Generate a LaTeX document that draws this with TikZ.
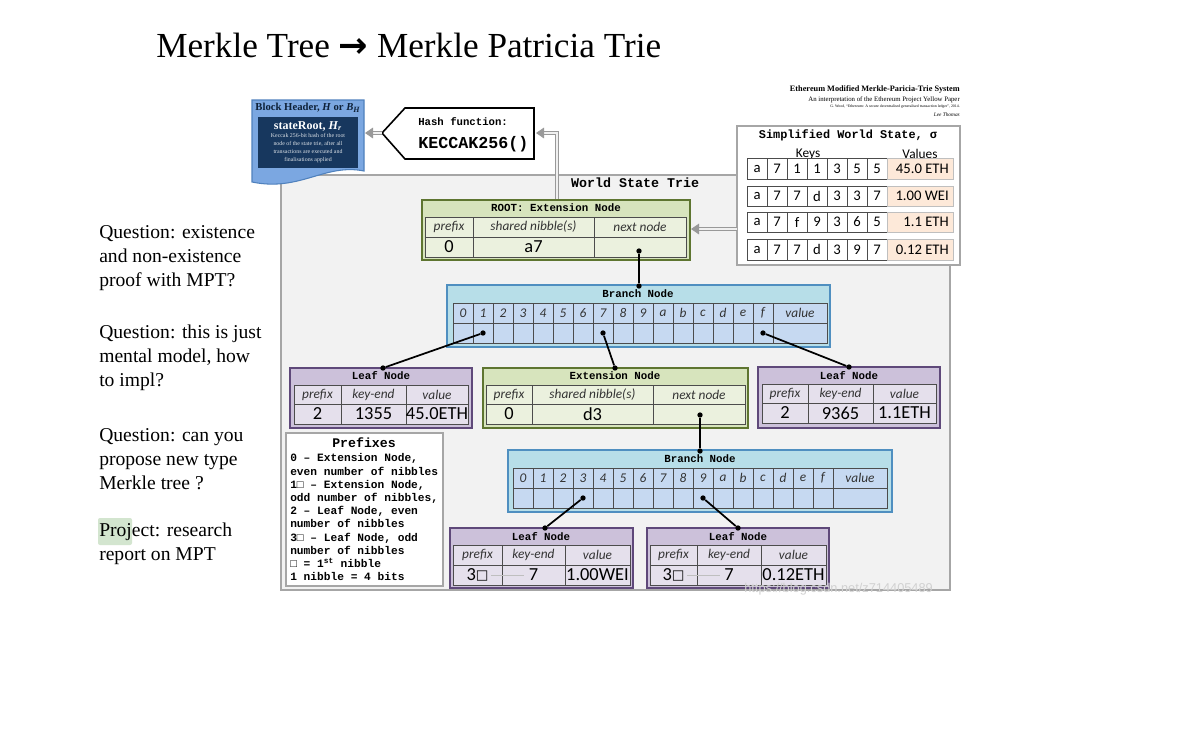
\documentclass[tikz,border=0pt]{standalone}
\usepackage{fontspec}
\setmainfont{Liberation Serif}
\newfontfamily\calib{Carlito}
\newfontfamily\cour{Liberation Mono}
\newfontfamily\dvs{DejaVu Sans}
\newfontfamily\lsans{Liberation Sans}
\usetikzlibrary{arrows.meta}

\definecolor{panelfill}{HTML}{F2F2F2}
\definecolor{panelline}{HTML}{A6A6A6}
\definecolor{grnfill}{HTML}{D7E4BD}
\definecolor{grnline}{HTML}{5E7530}
\definecolor{grncell}{HTML}{EBF1DE}
\definecolor{bluefill}{HTML}{B7DEE8}
\definecolor{blueline}{HTML}{4F8FC0}
\definecolor{bluecell}{HTML}{C6D9F1}
\definecolor{purfill}{HTML}{CCC1DA}
\definecolor{purline}{HTML}{5F497A}
\definecolor{purcell}{HTML}{E5E0EC}
\definecolor{peach}{HTML}{FDE9D9}
\definecolor{hdrblue}{HTML}{7BA7E1}
\definecolor{hdrline}{HTML}{4F81BD}
\definecolor{navy}{HTML}{17375E}
\definecolor{hilite}{HTML}{D3E5CF}

% a rectangular cell from (x1,y1) to (x2,y2), content centred
\newcommand{\cellat}[7]{%
  \node[#2, minimum width={((#5)-(#3))*0.75pt}, minimum height={((#6)-(#4))*0.75pt}]
    (#1) at ({((#3)+(#5))/2},{((#4)+(#6))/2}) {\makebox[0pt]{#7}};}
\newcommand{\sq}{{\dvs\fontsize{10}{11}\selectfont\raisebox{0.3pt}{□}}}

\begin{document}
\begin{tikzpicture}[x=0.75pt,y=-0.75pt,
  cell/.style={rectangle, draw=black!70, line width=0.5pt, inner sep=0pt},
  frame/.style={rectangle, line width=1.6pt, inner sep=0pt},
  hdr/.style={font=\calib\itshape\fontsize{10}{12}\selectfont, text=black!80},
  val/.style={font=\calib\fontsize{13.8}{15}\selectfont},
  ttl/.style={font=\cour\bfseries\fontsize{8.1}{9}\selectfont, inner sep=0pt},
  dot/.style={circle, fill=black, inner sep=0pt, minimum size=4pt},
  link/.style={line width=1.3pt, black},
  dblarrow/.style={draw=black!40, double=black!6, double distance=1.3pt, line width=0.7pt,
     -{Triangle[length=6pt,width=8pt]}},
  note/.style={anchor=base west, inner sep=0pt, font=\fontsize{14.7}{18}\selectfont},
  keyc/.style={cell, fill=white, font=\calib\fontsize{11}{12}\selectfont},
  ethtxt/.style={anchor=base east, inner sep=0pt},
]
\useasboundingbox (0,0) rectangle (1194,754);
\fill[white] (0,0) rectangle (1194,754);

% ---------- heading ----------
\node[anchor=base west, inner sep=0pt, font=\fontsize{26.4}{30}\selectfont] (title) at (156,57)
  {Merkle Tree {\dvs\bfseries →} Merkle Patricia Trie};

% ---------- notes on the left ----------
\fill[hilite, rounded corners=1.5pt] (98,518) rectangle (132,545);
\node[note] (q1a) at (99,238) {Question: existence};
\node[note] (q1b) at (99,262) {and non-existence};
\node[note] (q1c) at (99,286) {proof with MPT?};
\node[note] (q2a) at (99,338) {Question: this is just};
\node[note] (q2b) at (99,362) {mental model, how};
\node[note] (q2c) at (99,386) {to impl?};
\node[note] (q3a) at (99,441) {Question: can you};
\node[note] (q3b) at (99,465) {propose new type};
\node[note] (q3c) at (99,489) {Merkle tree ?};
\node[note] (q4a) at (99,536) {Project: research};
\node[note] (q4b) at (99,560) {report on MPT};

% ---------- world state trie panel ----------
\draw[panelline, line width=1.5pt, fill=panelfill] (281,175) rectangle (950,590);
\node[font=\cour\bfseries\fontsize{10}{12}\selectfont] (wst) at (635,183) {World State Trie};

% ---------- system caption ----------
\node[ethtxt, font=\bfseries\fontsize{6.2}{7}\selectfont] (cap1) at (960,91) {Ethereum Modified Merkle-Paricia-Trie System};
\node[ethtxt, font=\fontsize{5.1}{6}\selectfont] (cap2) at (960,101) {An interpretation of the Ethereum Project Yellow Paper};
\node[ethtxt, font=\fontsize{2.9}{3}\selectfont] (cap3) at (960,107) {G. Wood, ``Ethereum: A secure decentralised generalised transaction ledger'', 2014.};
\node[ethtxt, font=\itshape\fontsize{4}{5}\selectfont] (cap4) at (960,116) {Lee Thomas};

% ---------- block header ----------
\draw[hdrline, line width=0.8pt, fill=hdrblue]
  (252,100) -- (364,100) -- (364,171) .. controls (325,163) and (300,192) .. (252,182) -- cycle;
\node[font=\bfseries\fontsize{8}{9}\selectfont, text=navy!60!black, inner sep=0pt] (bh) at (308,108)
  {Block Header, \textit{H} or \textit{B}\textsubscript{\textit{H}}};
\cellat{sr}{rectangle, fill=navy, inner sep=0pt}{258}{117}{358}{168}{}
\node[font=\bfseries\fontsize{9}{10}\selectfont, text=white, inner sep=0pt] (srt) at (308,126)
  {stateRoot, \textit{H}\textsubscript{\textit{r}}};
\node[font=\fontsize{4.4}{6}\selectfont, text=white!85!navy, align=center, anchor=north, inner sep=0pt] (srd) at (308,133)
  {Keccak 256-bit hash of the root\\node of the state trie, after all\\transactions are executed and\\finalisations applied};
\coordinate (hdr-e) at (365,133);

% ---------- hash function ----------
\draw[black, line width=1.2pt, fill=white] (382,133) -- (405,108) -- (534,108) -- (534,159) -- (405,159) -- cycle;
\coordinate (hash-w) at (382,133);
\coordinate (hash-e) at (536,133);
\node[anchor=base west, inner sep=0pt, font=\cour\bfseries\fontsize{8}{9}\selectfont] (hf1) at (418,125) {Hash function:};
\node[anchor=base west, inner sep=0pt, font=\cour\bfseries\fontsize{12.5}{14}\selectfont] (hf2) at (418,148) {KECCAK256()};

% ---------- simplified world state ----------
\cellat{ssw}{frame, draw=panelline, fill=white}{737}{126}{960}{265}{}
\node[ttl, font=\cour\bfseries\fontsize{8.9}{10}\selectfont] (ssw-t) at (848,135) {Simplified World State, σ};
\node[font=\calib\fontsize{10}{12}\selectfont, inner sep=0pt] (keys) at (808,154) {Keys};
\node[font=\calib\fontsize{10}{12}\selectfont, inner sep=0pt] (vals) at (920,154) {Values};
\foreach \r/\ya/\yb/\ks/\v in {1/158/179/{a,7,1,1,3,5,5}/{45.0 ETH},
                              2/186/206/{a,7,7,d,3,3,7}/{1.00 WEI},
                              3/212/232/{a,7,f,9,3,6,5}/{1.1 ETH},
                              4/239/260/{a,7,7,d,3,9,7}/{0.12 ETH}}{
  \foreach \k [count=\i from 0] in \ks {
    \cellat{k\r-\i}{keyc}{747+20*\i}{\ya}{767+20*\i}{\yb}{\k}
  }
  \cellat{v\r}{rectangle, inner sep=0pt, fill=peach, draw=black!25, line width=0.5pt}{887}{\ya}{953}{\yb}{}
  \node[anchor=east, inner sep=0pt, font=\calib\fontsize{11}{12}\selectfont] (vt\r) at (949,{(\ya+\yb)/2}) {\v};
}
\coordinate (ssw-out) at (737,229);

% ---------- ROOT extension node ----------
\cellat{root}{frame, draw=grnline, fill=grnfill}{422}{200}{690}{260}{}
\node[ttl] (root-t) at (556,208) {ROOT: Extension Node};
\cellat{root-h1}{cell,fill=grncell,hdr}{425}{217}{473}{237}{prefix}
\cellat{root-h2}{cell,fill=grncell,hdr}{473}{217}{594}{237}{shared nibble(s)}
\cellat{root-h3}{cell,fill=grncell,hdr}{594}{217}{686}{237}{next node}
\cellat{root-v1}{cell,fill=grncell,val}{425}{237}{473}{257}{0}
\cellat{root-v2}{cell,fill=grncell,val}{473}{237}{594}{257}{a7}
\cellat{root-v3}{cell,fill=grncell,val}{594}{237}{686}{257}{}
\node[dot] (root-d) at (639,251) {};

% ---------- first branch node ----------
\cellat{b1}{frame, draw=blueline, fill=bluefill}{447}{285}{830}{347}{}
\node[ttl] (b1-t) at (638,294) {Branch Node};
\foreach \i/\lab in {0/0,1/1,2/2,3/3,4/4,5/5,6/6,7/7,8/8,9/9,10/a,11/b,12/c,13/d,14/e,15/f}{
  \cellat{b1h\i}{cell,fill=bluecell,hdr}{453+20*\i}{303}{473+20*\i}{323}{\lab}
  \cellat{b1v\i}{cell,fill=bluecell}{453+20*\i}{323}{473+20*\i}{343}{}
}
\cellat{b1hv}{cell,fill=bluecell,hdr}{773}{303}{827}{323}{value}
\cellat{b1vv}{cell,fill=bluecell}{773}{323}{827}{343}{}
\node[dot] (b1-top) at (639,286) {};
\node[dot] (b1-d1) at (483,333) {};
\node[dot] (b1-d7) at (603,333) {};
\node[dot] (b1-df) at (763,333) {};

% ---------- leaf node 45.0ETH ----------
\cellat{l1}{frame, draw=purline, fill=purfill}{290}{368}{472}{428}{}
\node[ttl] (l1-t) at (381,376) {Leaf Node};
\cellat{l1-h1}{cell,fill=purcell,hdr}{294}{385}{341}{404}{prefix}
\cellat{l1-h2}{cell,fill=purcell,hdr}{341}{385}{406}{404}{key-end}
\cellat{l1-h3}{cell,fill=purcell,hdr}{406}{385}{468}{404}{value}
\cellat{l1-v1}{cell,fill=purcell,val}{294}{404}{341}{424}{2}
\cellat{l1-v2}{cell,fill=purcell,val}{341}{404}{406}{424}{1355}
\cellat{l1-v3}{cell,fill=purcell,val}{406}{404}{468}{424}{45.0ETH}
\node[dot] (l1-top) at (383,368) {};

% ---------- extension node d3 ----------
\cellat{e1}{frame, draw=grnline, fill=grnfill}{483}{368}{748}{428}{}
\node[ttl] (e1-t) at (615,376) {Extension Node};
\cellat{e1-h1}{cell,fill=grncell,hdr}{486}{385}{532}{404}{prefix}
\cellat{e1-h2}{cell,fill=grncell,hdr}{532}{385}{653}{404}{shared nibble(s)}
\cellat{e1-h3}{cell,fill=grncell,hdr}{653}{385}{745}{404}{next node}
\cellat{e1-v1}{cell,fill=grncell,val}{486}{404}{532}{424}{0}
\cellat{e1-v2}{cell,fill=grncell,val}{532}{404}{653}{424}{d3}
\cellat{e1-v3}{cell,fill=grncell,val}{653}{404}{745}{424}{}
\node[dot] (e1-top) at (615,368) {};
\node[dot] (e1-d) at (700,415) {};

% ---------- leaf node 1.1ETH ----------
\cellat{l3}{frame, draw=purline, fill=purfill}{758}{367}{940}{428}{}
\node[ttl] (l3-t) at (849,376) {Leaf Node};
\cellat{l3-h1}{cell,fill=purcell,hdr}{762}{384}{808}{403}{prefix}
\cellat{l3-h2}{cell,fill=purcell,hdr}{808}{384}{873}{403}{key-end}
\cellat{l3-h3}{cell,fill=purcell,hdr}{873}{384}{936}{403}{value}
\cellat{l3-v1}{cell,fill=purcell,val}{762}{403}{808}{423}{2}
\cellat{l3-v2}{cell,fill=purcell,val}{808}{403}{873}{423}{9365}
\cellat{l3-v3}{cell,fill=purcell,val}{873}{403}{936}{423}{1.1ETH}
\node[dot] (l3-top) at (849,367) {};

% ---------- second branch node ----------
\cellat{b2}{frame, draw=blueline, fill=bluefill}{508}{450}{892}{512}{}
\node[ttl] (b2-t) at (700,459) {Branch Node};
\foreach \i/\lab in {0/0,1/1,2/2,3/3,4/4,5/5,6/6,7/7,8/8,9/9,10/a,11/b,12/c,13/d,14/e,15/f}{
  \cellat{b2h\i}{cell,fill=bluecell,hdr}{513+20*\i}{468}{533+20*\i}{488}{\lab}
  \cellat{b2v\i}{cell,fill=bluecell}{513+20*\i}{488}{533+20*\i}{508}{}
}
\cellat{b2hv}{cell,fill=bluecell,hdr}{833}{468}{887}{488}{value}
\cellat{b2vv}{cell,fill=bluecell}{833}{488}{887}{508}{}
\node[dot] (b2-top) at (700,451) {};
\node[dot] (b2-d3) at (583,498) {};
\node[dot] (b2-d9) at (703,498) {};

% ---------- leaf node 1.00WEI ----------
\cellat{l4}{frame, draw=purline, fill=purfill}{450}{528}{633}{588}{}
\node[ttl] (l4-t) at (541,537) {Leaf Node};
\cellat{l4-h1}{cell,fill=purcell,hdr}{453}{545}{502}{565}{prefix}
\cellat{l4-h2}{cell,fill=purcell,hdr}{502}{545}{565}{565}{key-end}
\cellat{l4-h3}{cell,fill=purcell,hdr}{565}{545}{630}{565}{value}
\cellat{l4-v1}{cell,fill=purcell,val}{453}{565}{502}{585}{3\sq}
\cellat{l4-v2}{cell,fill=purcell,val}{502}{565}{565}{585}{7}
\cellat{l4-v3}{cell,fill=purcell,val}{565}{565}{630}{585}{1.00WEI}
\draw[black!25, line width=0.5pt] (491,575) -- (524,575);
\node[dot] (l4-top) at (545,528) {};

% ---------- leaf node 0.12ETH ----------
\cellat{l5}{frame, draw=purline, fill=purfill}{647}{528}{829}{588}{}
\node[ttl] (l5-t) at (738,537) {Leaf Node};
\cellat{l5-h1}{cell,fill=purcell,hdr}{650}{545}{697}{565}{prefix}
\cellat{l5-h2}{cell,fill=purcell,hdr}{697}{545}{761}{565}{key-end}
\cellat{l5-h3}{cell,fill=purcell,hdr}{761}{545}{826}{565}{value}
\cellat{l5-v1}{cell,fill=purcell,val}{650}{565}{697}{585}{3\sq}
\cellat{l5-v2}{cell,fill=purcell,val}{697}{565}{761}{585}{7}
\cellat{l5-v3}{cell,fill=purcell,val}{761}{565}{826}{585}{0.12ETH}
\draw[black!25, line width=0.5pt] (687,575) -- (720,575);
\node[dot] (l5-top) at (738,528) {};

% ---------- prefixes legend ----------
\cellat{pfx}{frame, line width=1.3pt, draw=panelline, fill=white}{286}{433}{443}{586}{}
\node[font=\cour\bfseries\fontsize{9.9}{11}\selectfont, inner sep=0pt] (pfx-t) at (364,443) {Prefixes};
\node[anchor=north west, inner sep=0pt, align=left, font=\cour\bfseries\fontsize{8.4}{9.9}\selectfont] (pfx-b) at (290,453.5)
  {0 – Extension Node,\\even number of nibbles\\1□ – Extension Node,\\odd number of nibbles,\\2 – Leaf Node, even\\number of nibbles\\3□ – Leaf Node, odd\\number of nibbles\\□ = 1\textsuperscript{st} nibble\\1 nibble = 4 bits};

% ---------- links between trie nodes ----------
\draw[link] (root-d) -- (b1-top);
\draw[link] (b1-d1) -- (l1-top);
\draw[link] (b1-d7) -- (e1-top);
\draw[link] (b1-df) -- (l3-top);
\draw[link] (e1-d) -- (b2-top);
\draw[link] (b2-d3) -- (l4-top);
\draw[link] (b2-d9) -- (l5-top);

% ---------- hashing arrows ----------
\coordinate (root-up) at (557,199);
\coordinate (root-in) at (691,229);
\draw[dblarrow] (ssw-out) -- (root-in);
\draw[dblarrow] (root-up) |- (hash-e);
\draw[dblarrow] (hash-w) -- (hdr-e);

% ---------- source mark ----------
\node[anchor=base west, inner sep=0pt, text=black!18, font=\lsans\fontsize{9.6}{12}\selectfont] (src) at (744,592) {https://blog.csdn.net/z714405489};
\end{tikzpicture}
\end{document}
